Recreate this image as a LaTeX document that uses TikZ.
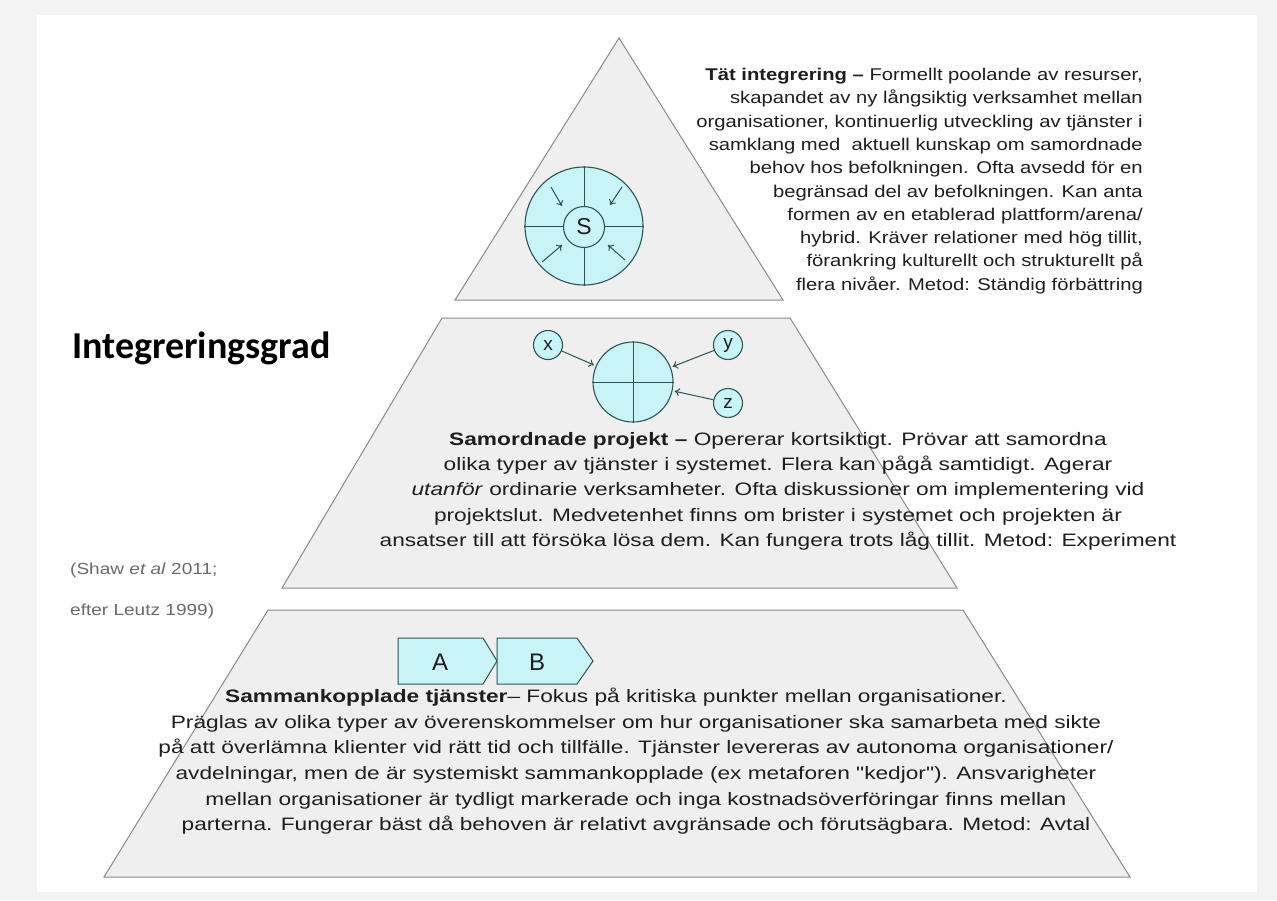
\documentclass[tikz,border=0pt]{standalone}
\usepackage{fontspec}
\setmainfont{Liberation Sans}
\newfontfamily\wideA[FakeStretch=1.19]{Liberation Sans}
\newfontfamily\wideB[FakeStretch=1.26]{Liberation Sans}
\newfontfamily\calib{Carlito}
\usetikzlibrary{arrows.meta}
\definecolor{pg}{HTML}{EFEFEF}
\definecolor{pe}{HTML}{8A8A8A}
\definecolor{cf}{HTML}{C9F4F7}
\definecolor{ce}{HTML}{2E5353}
\definecolor{bgout}{HTML}{F3F3F3}
\definecolor{txt}{HTML}{1E1E1E}
\definecolor{src}{HTML}{6A6A6A}
\begin{document}
\begin{tikzpicture}[x=1pt,y=-1pt,
  level/.style={fill=pg,draw=pe,line width=1pt},
  disc/.style={circle,fill=cf,draw=ce,line width=1.1pt,inner sep=0pt,text=txt},
  cross/.style={draw=ce,line width=1pt},
  arr/.style={draw=ce,line width=1pt,-{To[length=5pt,width=8pt]}},
  chev/.style={fill=cf,draw=ce,line width=1pt},
  body/.style={inner sep=0pt,text=txt}]
\useasboundingbox (0,0) rectangle (1277,900);
\fill[bgout] (0,0) rectangle (1277,900);
\fill[white] (37,15) rectangle (1257,892);

% pyramid levels
\draw[level] (619,38) -- (783,300) -- (455,300) -- cycle;
\draw[level] (442,318) -- (790,318) -- (957,588) -- (282,588) -- cycle;
\draw[level] (268,610) -- (963,610) -- (1130,877) -- (104,877) -- cycle;

% top symbol
\node[disc,minimum size=118pt] (S0) at (584,226) {};
\draw[cross] (S0.north) -- (S0.south);
\draw[cross] (S0.west) -- (S0.east);
\node[disc,minimum size=41pt,font=\fontsize{23}{23}\selectfont] (S) at (584,227) {S};
\draw[arr] ([shift={(-33,-39)}]S0.center) -- ([shift={(-22,-20)}]S0.center);
\draw[arr] ([shift={(38,-39)}]S0.center) -- ([shift={(26,-21)}]S0.center);
\draw[arr] ([shift={(-42,36)}]S0.center) -- ([shift={(-22,19)}]S0.center);
\draw[arr] ([shift={(41,34)}]S0.center) -- ([shift={(24,19)}]S0.center);

% middle symbol
\node[disc,minimum size=80pt] (M) at (633,382) {};
\draw[cross] (M.north) -- (M.south);
\draw[cross] (M.west) -- (M.east);
\node[disc,minimum size=29pt,font=\fontsize{19}{19}\selectfont] (X) at (548,345) {x};
\node[disc,minimum size=29pt,font=\fontsize{19}{19}\selectfont] (Y) at (728,345) {y};
\node[disc,minimum size=29pt,font=\fontsize{19}{19}\selectfont] (Z) at (728,403) {z};
\draw[arr,shorten >=2pt] (X) -- (M);
\draw[arr,shorten >=2pt] (Y) -- (M);
\draw[arr,shorten >=2pt] (Z) -- (M);

% bottom symbol
\draw[chev] (398,638) -- (483,638) -- (497,661) -- (483,684) -- (398,684) -- cycle;
\draw[chev] (497,638) -- (577,638) -- (593,661) -- (577,684) -- (497,684) -- cycle;
\node[body,font=\fontsize{24}{24}\selectfont] (A) at (440,662) {A};
\node[body,font=\fontsize{24}{24}\selectfont] (B) at (537,662) {B};

% texts
\node[body,anchor=north east,align=right,font=\wideA\fontsize{17}{23.3}\selectfont] (T1) at (1143,68)
{\textbf{Tät integrering –} Formellt poolande av resurser,\\
skapandet av ny långsiktig verksamhet mellan\\
organisationer, kontinuerlig utveckling av tjänster i\\
samklang med\ \ aktuell kunskap om samordnade\\
behov hos befolkningen. Ofta avsedd för en\\
begränsad del av befolkningen. Kan anta\\
formen av en etablerad plattform/arena/\\
hybrid. Kräver relationer med hög tillit,\\
förankring kulturellt och strukturellt på\\
flera nivåer. Metod: Ständig förbättring};

\node[body,anchor=north,align=center,font=\wideB\fontsize{18}{25.3}\selectfont] (T2) at (778,432)
{\textbf{Samordnade projekt –} Opererar kortsiktigt. Prövar att samordna\\
olika typer av tjänster i systemet. Flera kan pågå samtidigt. Agerar\\
\textit{utanför} ordinarie verksamheter. Ofta diskussioner om implementering vid\\
projektslut. Medvetenhet finns om brister i systemet och projekten är\\
ansatser till att försöka lösa dem. Kan fungera trots låg tillit. Metod: Experiment};

\node[body,anchor=north,align=center,font=\wideB\fontsize{18}{25.6}\selectfont] (T3) at (636,688)
{\textbf{Sammankopplade tjänster}– Fokus på kritiska punkter mellan organisationer.\hspace*{40pt}\\
Präglas av olika typer av överenskommelser om hur organisationer ska samarbeta med sikte\\
på att överlämna klienter vid rätt tid och tillfälle. Tjänster levereras av autonoma organisationer/\\
avdelningar, men de är systemiskt sammankopplade (ex metaforen "kedjor"). Ansvarigheter\\
mellan organisationer är tydligt markerade och inga kostnadsöverföringar finns mellan\\
parterna. Fungerar bäst då behoven är relativt avgränsade och förutsägbara. Metod: Avtal};

\node[inner sep=0pt,anchor=base west,font=\calib\bfseries\fontsize{38}{38}\selectfont] (G) at (72,358) {Integreringsgrad};
\node[inner sep=0pt,anchor=base west,text=src,font=\wideA\fontsize{16}{16}\selectfont] (R1) at (70,574) {(Shaw \textit{et al} 2011;};
\node[inner sep=0pt,anchor=base west,text=src,font=\wideA\fontsize{16}{16}\selectfont] (R2) at (70,615) {efter Leutz 1999)};
\end{tikzpicture}
\end{document}
